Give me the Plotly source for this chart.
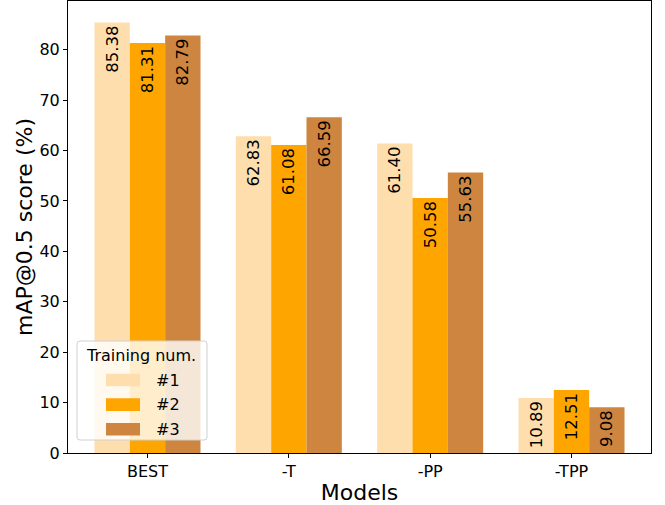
import plotly.graph_objects as go

models = ["BEST", "-T", "-PP", "-TPP"]
run1 = [85.38, 62.83, 61.40, 10.89]
run2 = [81.31, 61.08, 50.58, 12.51]
run3 = [82.79, 66.59, 55.63, 9.08]
run_names = ["#1", "#2", "#3"]
run_colors = ["#FFDEAD", "#FFA500", "#CD853F"]
legend_title = "Training num."

FONT = "DejaVu Sans"
W, H = 665, 505
ML, MR, MT, MB = 68, 14, 1, 52
PW, PH = W - ML - MR, H - MT - MB


def px(x):
    return (x - ML) / PW


def py(y):
    return (H - MB - y) / PH


fig = go.Figure()
for name, vals, color in zip(run_names, [run1, run2, run3], run_colors):
    fig.add_trace(go.Bar(
        x=models, y=vals, name=name, showlegend=False,
        marker=dict(color=color, line=dict(width=0)),
        text=[f"{v:.2f}" for v in vals],
        textposition="inside", insidetextanchor="end",
        textangle=-90, constraintext="none",
        textfont=dict(family=FONT, size=16.5, color="black"),
    ))

# legend box drawn as shapes over the bars (semi-transparent frame)
shapes = []
annotations = []
x0, x1, y0, y1, r = 77, 207, 341, 440, 3
path = (f"M {px(x0 + r)} {py(y0)} L {px(x1 - r)} {py(y0)} "
        f"Q {px(x1)} {py(y0)} {px(x1)} {py(y0 + r)} L {px(x1)} {py(y1 - r)} "
        f"Q {px(x1)} {py(y1)} {px(x1 - r)} {py(y1)} L {px(x0 + r)} {py(y1)} "
        f"Q {px(x0)} {py(y1)} {px(x0)} {py(y1 - r)} L {px(x0)} {py(y0 + r)} "
        f"Q {px(x0)} {py(y0)} {px(x0 + r)} {py(y0)} Z")
shapes.append(dict(type="path", path=path, xref="paper", yref="paper",
                   fillcolor="rgba(255,255,255,0.8)",
                   line=dict(color="#d0d0d0", width=1), layer="above"))
annotations.append(dict(text=legend_title, x=px(141), y=py(355), xref="paper", yref="paper",
                        showarrow=False, xanchor="center", yanchor="middle",
                        font=dict(family=FONT, size=16, color="black")))
for i, (name, color) in enumerate(zip(run_names, run_colors)):
    cy = 380 + i * 24.6
    shapes.append(dict(type="rect", xref="paper", yref="paper",
                       x0=px(106), x1=px(140), y0=py(cy - 6.3), y1=py(cy + 6.3),
                       fillcolor=color, line=dict(width=0), layer="above"))
    annotations.append(dict(text=name, x=px(154), y=py(cy), xref="paper", yref="paper",
                            showarrow=False, xanchor="left", yanchor="middle",
                            font=dict(family=FONT, size=16, color="black")))

fig.update_layout(
    width=W, height=H,
    margin=dict(l=ML, r=MR, t=MT, b=MB),
    paper_bgcolor="white", plot_bgcolor="white",
    barmode="group", bargap=0.25, bargroupgap=0,
    font=dict(family=FONT, size=16, color="black"),
    shapes=shapes, annotations=annotations,
    xaxis=dict(
        range=[-0.5625, 3.5625],
        showline=True, linecolor="black", linewidth=1, mirror=True,
        ticks="outside", ticklen=4, tickcolor="black",
        tickfont=dict(family=FONT, size=16),
        title=dict(text="Models", font=dict(family=FONT, size=22), standoff=4),
    ),
    yaxis=dict(
        range=[0, 89.65], dtick=10, showgrid=False, zeroline=False,
        showline=True, linecolor="black", linewidth=1, mirror=True,
        ticks="outside", ticklen=4, tickcolor="black",
        tickfont=dict(family=FONT, size=16),
        title=dict(text="mAP@0.5 score (%)", font=dict(family=FONT, size=22), standoff=0),
    ),
)

fig.write_html("out.html")
